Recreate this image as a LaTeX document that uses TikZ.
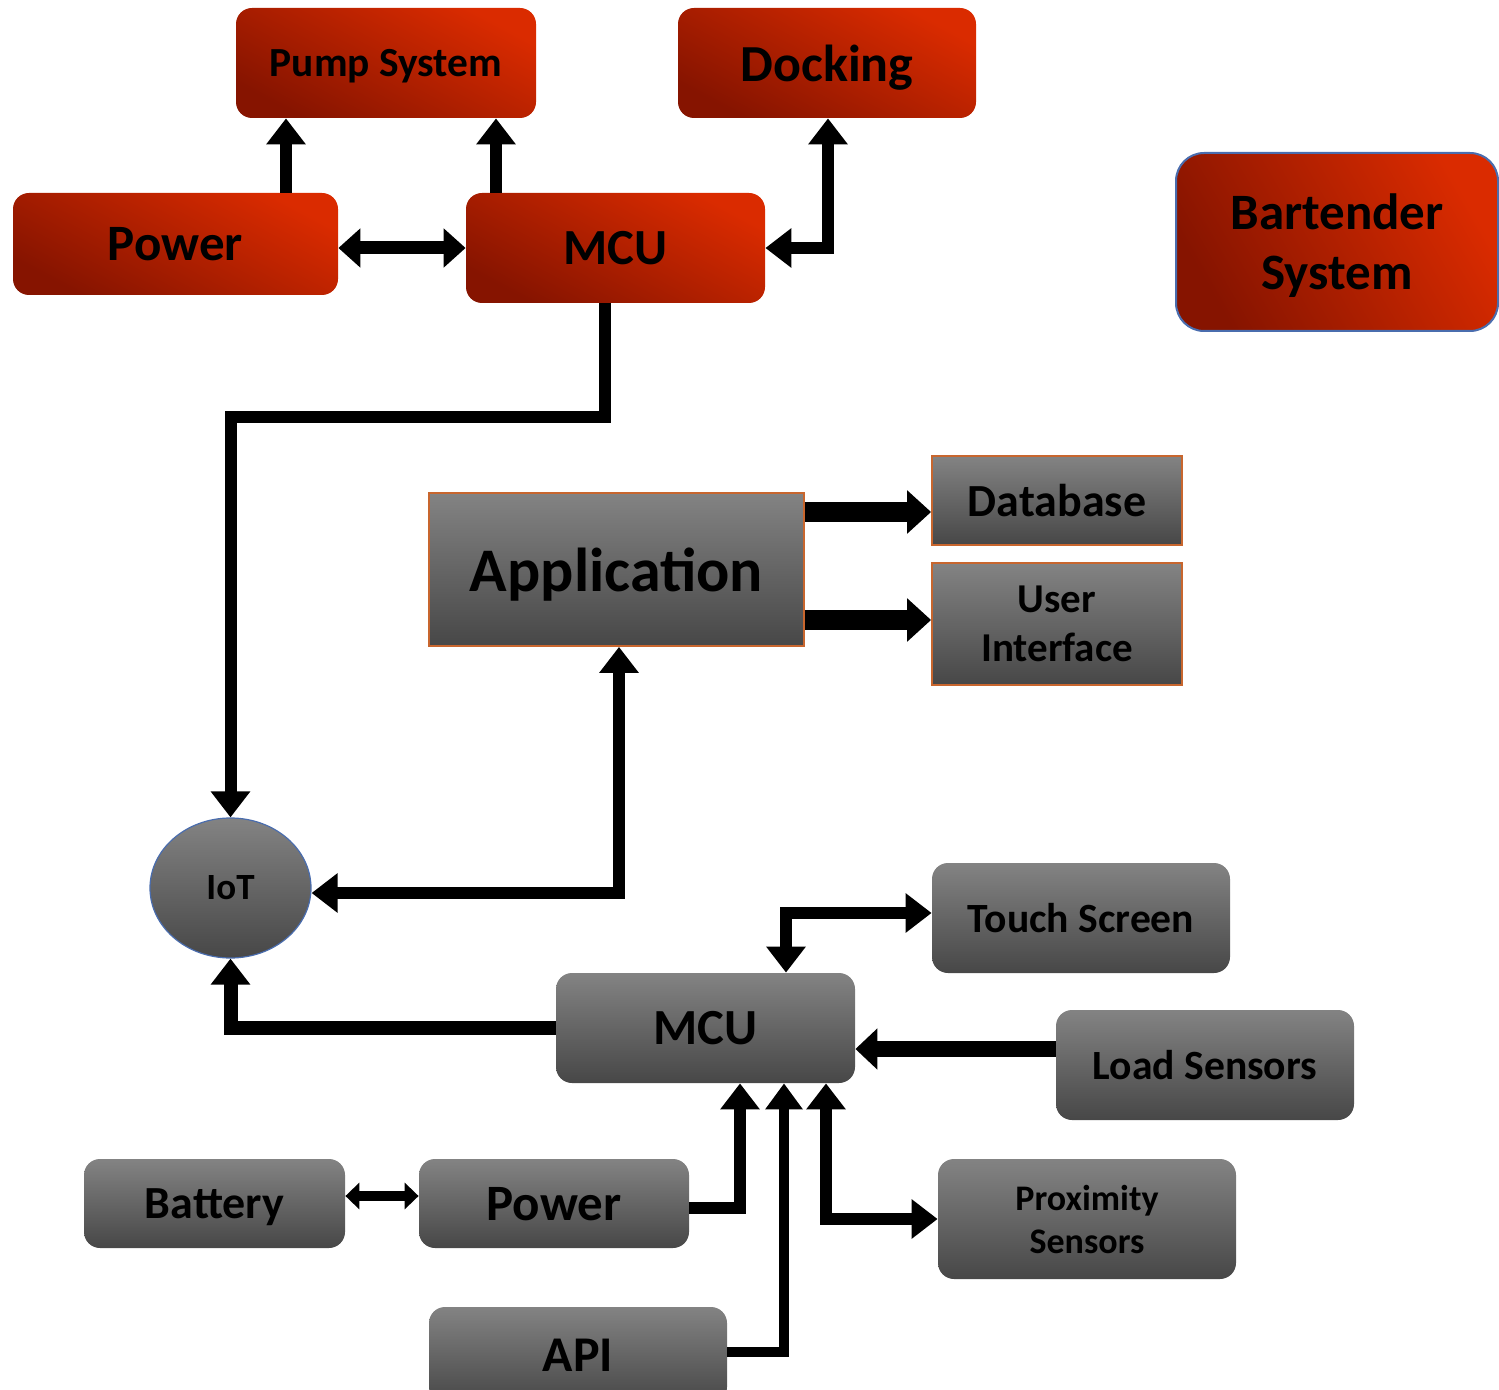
\documentclass[tikz,border=0pt]{standalone}
\usepackage{fontspec}
\setmainfont{Carlito}
\usetikzlibrary{arrows.meta,shapes.geometric}
\definecolor{rdark}{HTML}{861400}
\definecolor{rmid}{HTML}{BC2300}
\definecolor{rlight}{HTML}{DA2B00}
\definecolor{gtop}{HTML}{838383}
\definecolor{gbot}{HTML}{474747}
\definecolor{edgeorange}{HTML}{C8662E}
\definecolor{edgeblue}{HTML}{4A6DAE}
\begin{document}
\begin{tikzpicture}[x=0.5pt,y=-0.5pt,
  redbox/.style={rectangle, rounded corners=8pt, inner sep=0pt, text depth=0pt,
    bottom color=rdark, middle color=rmid, top color=rlight, shading angle=-28, align=center},
  graybox/.style={rectangle, rounded corners=8pt, inner sep=0pt, text depth=0pt,
    bottom color=gbot, top color=gtop, align=center},
  grayframe/.style={rectangle, inner sep=0pt, text depth=0pt, draw=edgeorange, line width=0.9pt,
    bottom color=gbot, top color=gtop, align=center},
  wire/.style={line width=6pt, -{Triangle[length=13pt,width=19pt]}},
  wirebi/.style={line width=6pt, {Triangle[length=13pt,width=19pt]}-{Triangle[length=13pt,width=19pt]}},
  fat/.style={line width=10pt, -{Triangle[length=12pt,width=21pt]}},
]
\useasboundingbox (0,0) rectangle (1499,1390);
\clip (0,0) rectangle (1499,1390);

% ---- upper (red) subsystem ----
\node[redbox, minimum width=150pt, minimum height=55pt,
  font={\bfseries\fontsize{20.7}{24}\selectfont}] (pump) at (386,63) {Pump System};
\node[redbox, minimum width=149pt, minimum height=55pt,
  font={\bfseries\fontsize{26}{30}\selectfont}] (dock) at (827,63) {Docking};
\node[redbox, minimum width=162.5pt, minimum height=51pt,
  font={\bfseries\fontsize{25.5}{30}\selectfont}] (pwrA) at (175.5,244) {Power};
\node[redbox, minimum width=149.5pt, minimum height=55pt,
  font={\bfseries\fontsize{25.3}{30}\selectfont}] (mcuA) at (615.5,248) {MCU};
\node[redbox, draw=edgeblue, line width=1pt, rounded corners=14pt, shading angle=-60,
  minimum width=161pt, minimum height=89pt,
  font={\bfseries\fontsize{25.5}{30}\selectfont}] (bart) at (1337,242) {Bartender\\System};

% ---- application side ----
\node[grayframe, minimum width=187.5pt, minimum height=76.5pt,
  font={\bfseries\fontsize{31}{36}\selectfont}] (app) at (616.5,569.5) {Application};
\node[grayframe, minimum width=125pt, minimum height=44.5pt,
  font={\bfseries\fontsize{23}{27}\selectfont}] (db) at (1057,500.5) {Database};
\node[grayframe, minimum width=125pt, minimum height=61pt,
  font={\bfseries\fontsize{20.5}{24.5}\selectfont}] (ui) at (1057,624) {User\\Interface};
\node[ellipse, draw=edgeblue, line width=0.6pt, inner sep=0pt,
  bottom color=gbot, top color=gtop, minimum width=80.5pt, minimum height=70pt,
  font={\bfseries\fontsize{18.5}{22}\selectfont}] (iot) at (230.5,888) {IoT};

% ---- lower (gray) subsystem ----
\node[graybox, minimum width=149pt, minimum height=55pt,
  font={\bfseries\fontsize{20.8}{24}\selectfont}] (touch) at (1081,918) {Touch Screen};
\node[graybox, minimum width=149.5pt, minimum height=55pt,
  font={\bfseries\fontsize{25.3}{30}\selectfont}] (mcuB) at (705.5,1028) {MCU};
\node[graybox, minimum width=149pt, minimum height=55pt,
  font={\bfseries\fontsize{20.8}{24}\selectfont}] (load) at (1205,1065) {Load Sensors};
\node[graybox, minimum width=130.5pt, minimum height=44.5pt,
  font={\bfseries\fontsize{23}{27}\selectfont}] (batt) at (214.5,1203.5) {Battery};
\node[graybox, minimum width=135pt, minimum height=44.5pt,
  font={\bfseries\fontsize{25.5}{30}\selectfont}] (pwrB) at (554,1203.5) {Power};
\node[graybox, minimum width=149pt, minimum height=60pt,
  font={\bfseries\fontsize{18}{21.5}\selectfont}] (prox) at (1087,1219) {Proximity\\Sensors};
\node[graybox, minimum width=149pt, minimum height=48pt,
  font={\bfseries\fontsize{25}{30}\selectfont}] (api) at (578,1355) {API};

% ---- connectors, upper part ----
\draw[wire] (pwrA.north -| 286,0) -- (pump.south -| 286,0);
\draw[wire] (mcuA.north -| 496,0) -- (pump.south -| 496,0);
\draw[line width=6.5pt, {Triangle[length=11pt,width=19pt]}-{Triangle[length=11pt,width=19pt]}]
  (pwrA.east |- 0,248) -- (mcuA.west |- 0,248);
\draw[wirebi] (mcuA.east |- 0,248) -| (dock.south -| 828,0);
\draw[wire] (mcuA.south -| 605,0) |- (iot.north |- 0,417) -- (iot.north);

% ---- connectors, application ----
\draw[fat] (app.east |- 0,512) -- (db.west |- 0,512);
\draw[fat] (app.east |- 0,620) -- (ui.west |- 0,620);
\draw[wirebi] (app.south -| 619,0) |- (iot.east |- 0,893);

% ---- connectors, lower part ----
\draw[wirebi] (mcuB.north -| 786,0) |- (touch.west |- 0,913);
\draw[line width=8pt, -{Triangle[length=11pt,width=20pt]}]
  (load.west |- 0,1049) -- (mcuB.east |- 0,1049);
\draw[line width=7pt, -{Triangle[length=13pt,width=19pt]}]
  (mcuB.west |- 0,1028) -| (iot.south);
\draw[wire] (pwrB.east |- 0,1208) -| (mcuB.south -| 740,0);
\draw[line width=5pt, -{Triangle[length=13pt,width=18pt]}]
  (api.east |- 0,1352) -| (mcuB.south -| 784,0);
\draw[wirebi] (mcuB.south -| 826,0) |- (prox.west |- 0,1219);
\draw[line width=5pt, {Triangle[length=7pt,width=13pt]}-{Triangle[length=7pt,width=13pt]}]
  (batt.east |- 0,1196) -- (pwrB.west |- 0,1196);
\end{tikzpicture}
\end{document}
